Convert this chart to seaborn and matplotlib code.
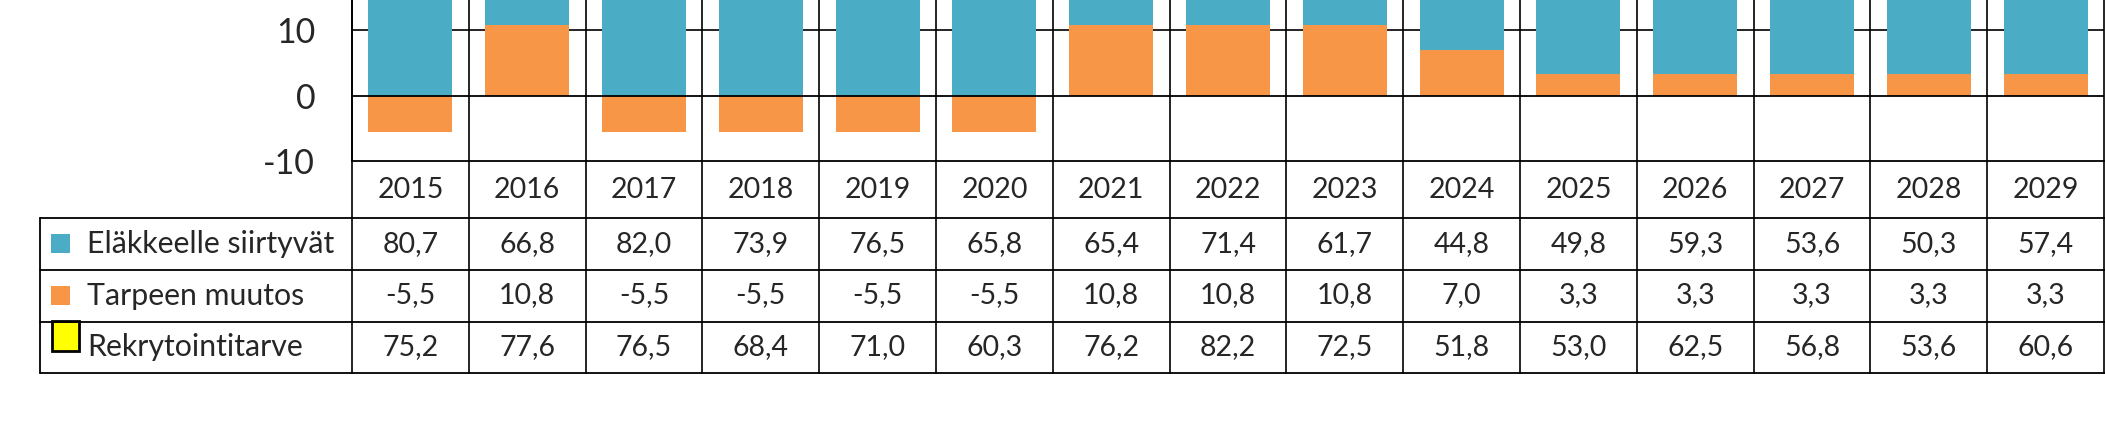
import numpy as np
import pandas as pd
import matplotlib
matplotlib.use("Agg")
import matplotlib.pyplot as plt
from matplotlib.lines import Line2D
from matplotlib.patches import Rectangle
import seaborn as sns

# ---- data ----
years = ["2015", "2016", "2017", "2018", "2019", "2020", "2021", "2022",
         "2023", "2024", "2025", "2026", "2027", "2028", "2029"]
elakkeelle = [80.7, 66.8, 82.0, 73.9, 76.5, 65.8, 65.4, 71.4, 61.7, 44.8,
              49.8, 59.3, 53.6, 50.3, 57.4]
muutos = [-5.5, 10.8, -5.5, -5.5, -5.5, -5.5, 10.8, 10.8, 10.8, 7.0,
          3.3, 3.3, 3.3, 3.3, 3.3]
rekry = [75.2, 77.6, 76.5, 68.4, 71.0, 60.3, 76.2, 82.2, 72.5, 51.8,
         53.0, 62.5, 56.8, 53.6, 60.6]
series_names = ["Eläkkeelle siirtyvät", "Tarpeen muutos", "Rekrytointitarve"]
yticks = [-10, 0, 10]

BLUE = "#4BACC6"
ORANGE = "#F79646"
YELLOW = "#FFFF00"

sns.set_style("white")
plt.rcParams["font.family"] = ["Lato", "DejaVu Sans"]
plt.rcParams["axes.unicode_minus"] = False

W, H = 2105, 428
fig = plt.figure(figsize=(W / 100, H / 100), dpi=100)

x_left, x_right = 352, 2104
y_bot = 161.3          # pixel row of the -10 line
ax = fig.add_axes([x_left / W, 1 - y_bot / H, (x_right - x_left) / W, y_bot / H])

df = pd.DataFrame({"year": years, "elake": elakkeelle, "muutos": muutos, "rekry": rekry})
df["blue_top"] = df["elake"] + df["muutos"].clip(lower=0)

sns.barplot(data=df, x="year", y="blue_top", color=BLUE, saturation=1,
            width=0.72, ax=ax, zorder=2, linewidth=0)
sns.barplot(data=df, x="year", y="muutos", color=ORANGE, saturation=1,
            width=0.72, ax=ax, zorder=3, linewidth=0)
sns.scatterplot(data=df, x="year", y="rekry", marker="s", color=YELLOW,
                edgecolor="black", s=120, ax=ax, zorder=4, legend=False)

ax.set_xlim(-0.5, 14.5)
ax.set_ylim(-10, 14.63)
ax.set_yticks(yticks)
ax.set_yticklabels([str(t) for t in yticks])
ax.set_xlabel("")
ax.set_ylabel("")
ax.set_xticks(range(len(years)))
ax.set_xticklabels(years)
ax.tick_params(axis="x", length=0, pad=20.4, labelsize=20.5)
for lab in ax.get_xticklabels():
    lab.set_va("center")
ax.tick_params(axis="y", direction="out", length=10, width=1.2, color="black",
               pad=16.5, labelsize=24.5)

for s in ["top", "right"]:
    ax.spines[s].set_visible(False)
ax.spines["left"].set_color("black")
ax.spines["left"].set_linewidth(1.3)
ax.spines["bottom"].set_color("black")
ax.spines["bottom"].set_linewidth(1.3)

ax.set_axisbelow(True)
ax.axhline(10, color="black", lw=1.2, zorder=1)
ax.axhline(0, color="black", lw=1.3, zorder=5)

# table geometry (pixel rows)
row_lines = [218.0, 269.5, 321.5, 373.0]
row_centers = [(row_lines[i] + row_lines[i + 1]) / 2 for i in range(3)]


def afrac(py):
    return (y_bot - py) / y_bot


xt = ax.get_xaxis_transform()
for b in np.arange(-0.5, 15.0, 1.0):
    ax.plot([b, b], [1.0, afrac(row_lines[-1])], color="black", lw=1.2,
            transform=xt, clip_on=False, zorder=6)

# horizontal table lines
for py in row_lines:
    fig.add_artist(Line2D([40 / W, 1.0], [1 - py / H, 1 - py / H],
                          color="black", lw=1.3, transform=fig.transFigure))
fig.add_artist(Line2D([40 / W, 40 / W], [1 - row_lines[0] / H, 1 - row_lines[-1] / H],
                      color="black", lw=1.3, transform=fig.transFigure))


def fmt(v):
    return f"{v:.1f}".replace(".", ",")


rows = [elakkeelle, muutos, rekry]
for r, vals in enumerate(rows):
    for i, v in enumerate(vals):
        ax.text(i, afrac(row_centers[r]), fmt(v), transform=xt, ha="center",
                va="center", fontsize=20.5, clip_on=False)
    fig.text(87 / W, 1 - row_centers[r] / H, series_names[r], ha="left",
             va="center", fontsize=21.8)

# legend keys
fig.add_artist(Rectangle((51 / W, 1 - 253 / H), 19 / W, 19 / H, facecolor=BLUE,
                         edgecolor="none", transform=fig.transFigure))
fig.add_artist(Rectangle((51 / W, 1 - 305 / H), 19 / W, 19 / H, facecolor=ORANGE,
                         edgecolor="none", transform=fig.transFigure))
fig.add_artist(Rectangle((52 / W, 1 - 350.5 / H), 26.5 / W, 29.5 / H, facecolor=YELLOW,
                         edgecolor="black", lw=2, transform=fig.transFigure))

fig.savefig("out.png", dpi=100)
